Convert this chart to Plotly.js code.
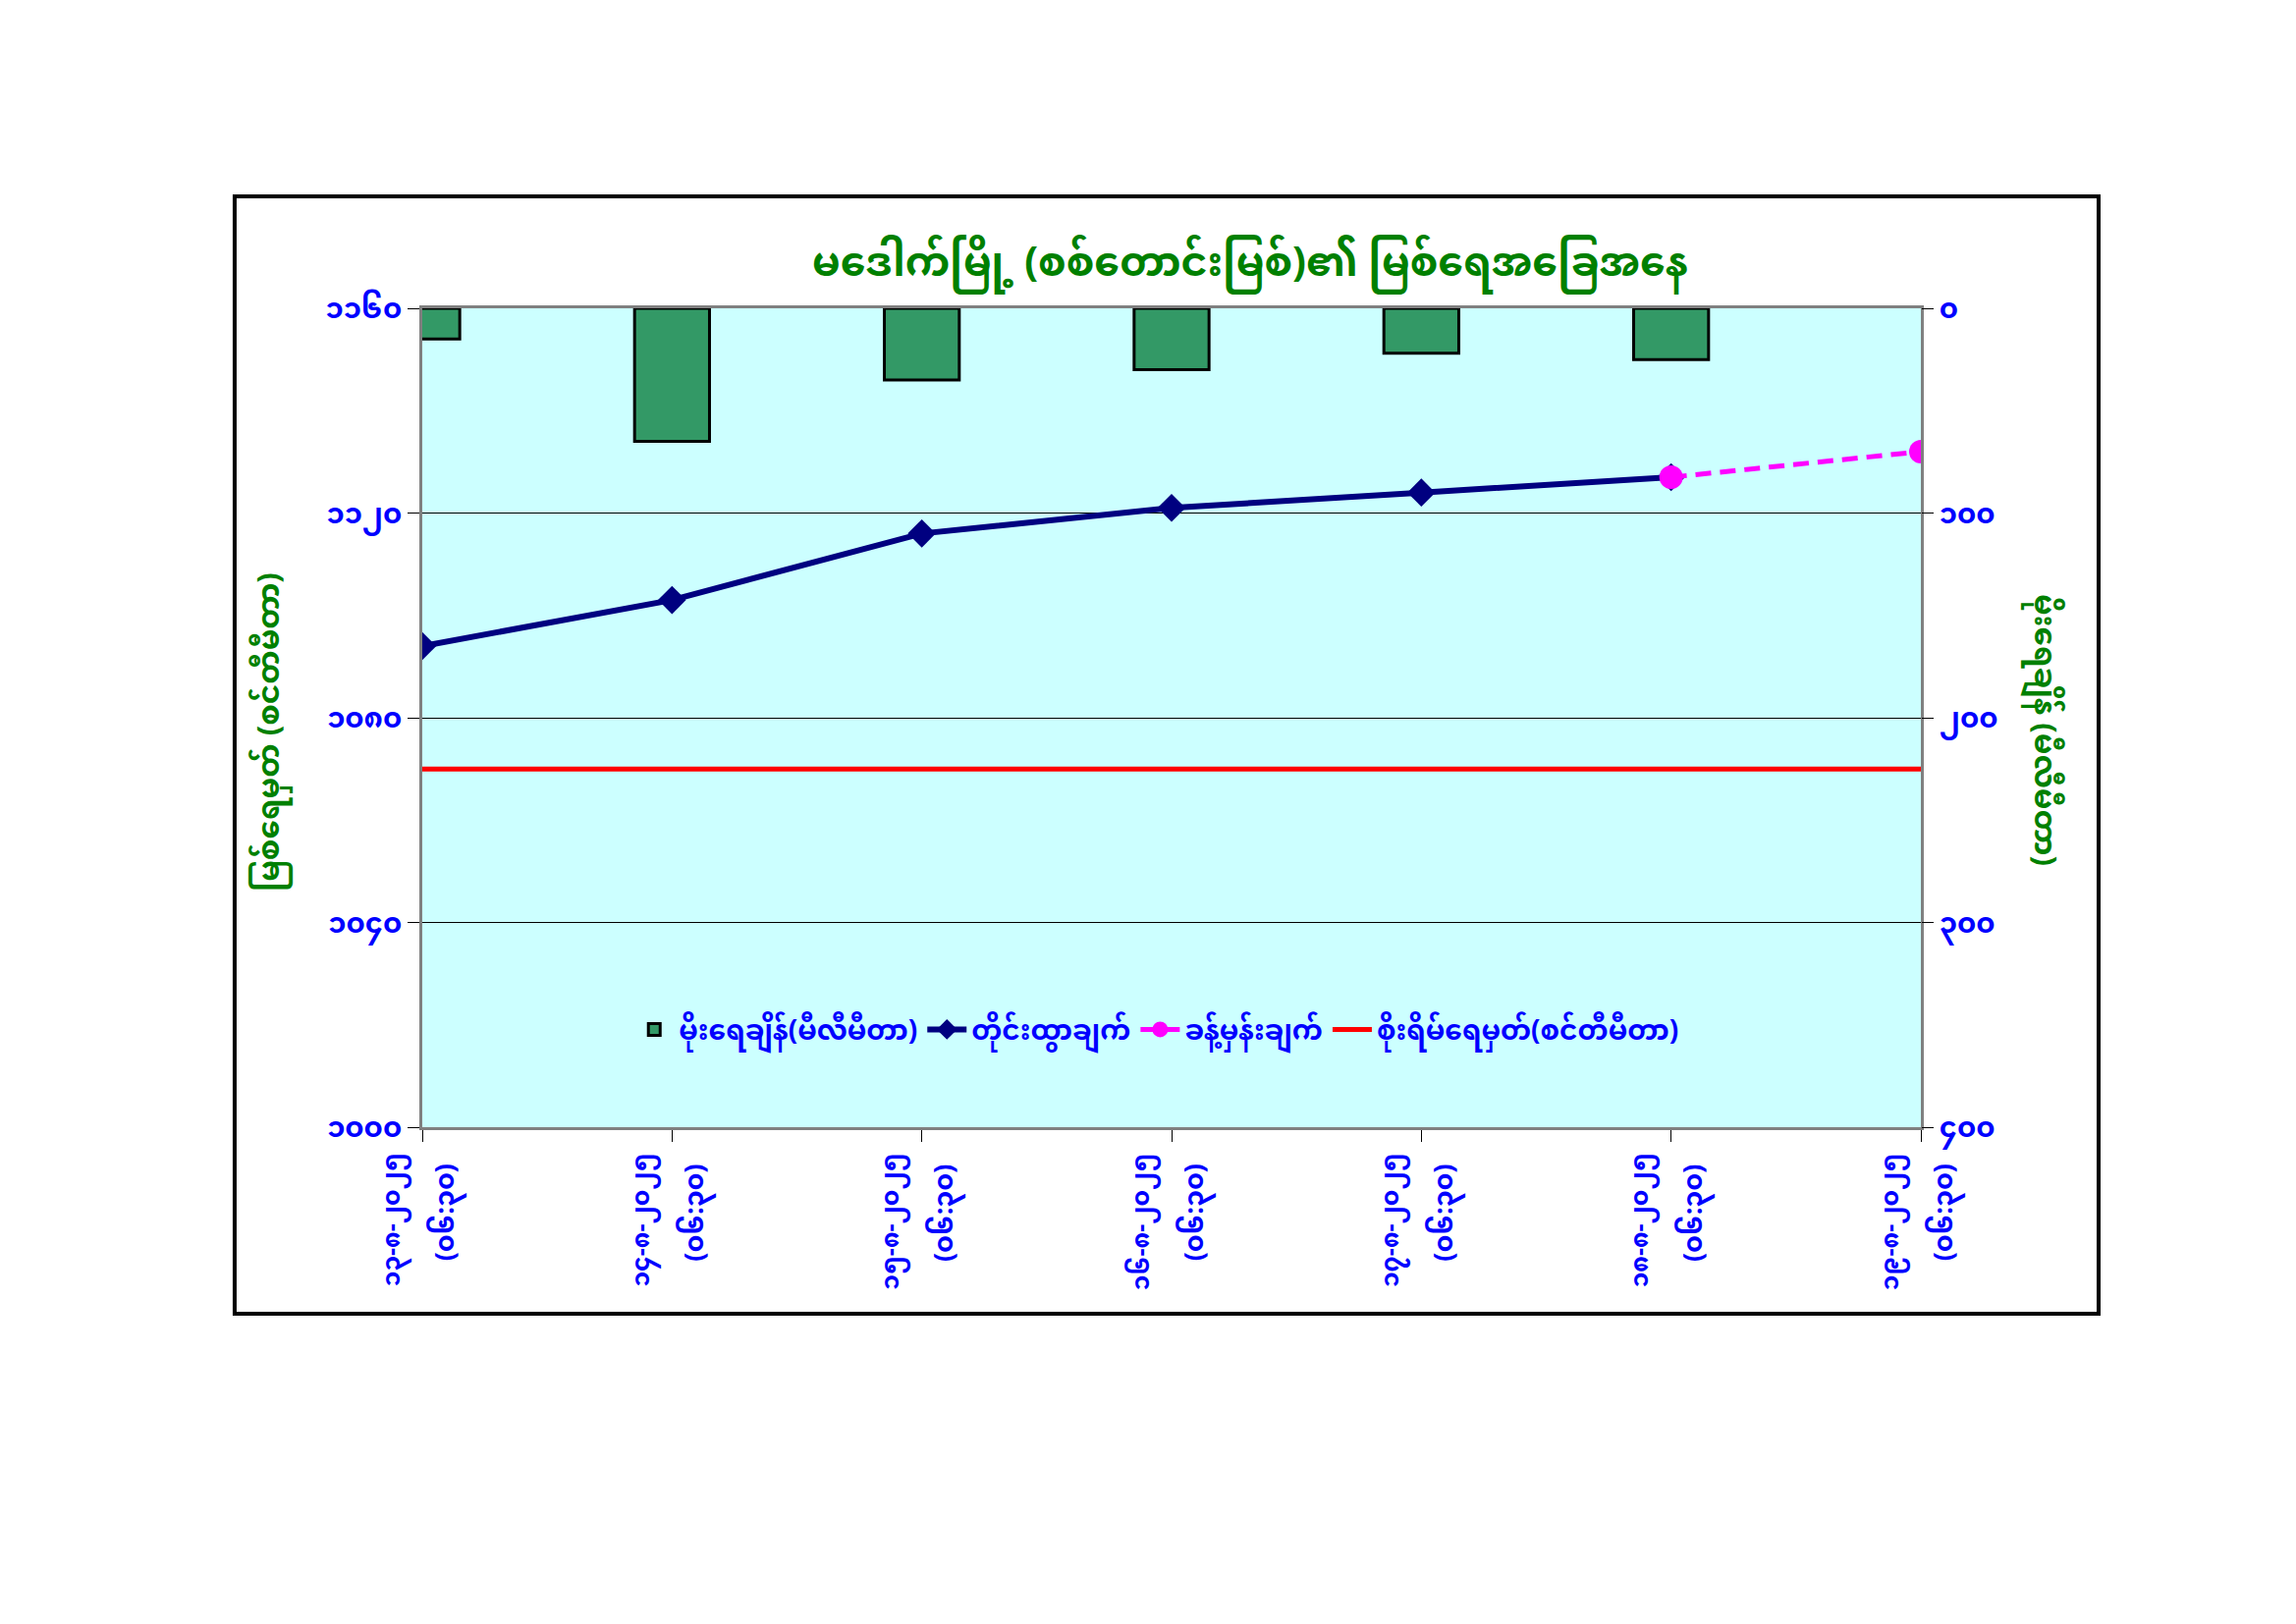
<!DOCTYPE html>
<html>
<head>
<meta charset="utf-8">
<script src="https://cdn.plot.ly/plotly-3.0.1.min.js"></script>
<style>html,body{margin:0;padding:0;background:#fff;}#chart{width:2338px;height:1654px;}</style>
</head>
<body>
<div id="chart"></div>
<script>
const categories = ["2025-08-13", "2025-08-14", "2025-08-15", "2025-08-16", "2025-08-17", "2025-08-18", "2025-08-19"];
const dateLabels = ["၁၃-၈-၂၀၂၅", "၁၄-၈-၂၀၂၅", "၁၅-၈-၂၀၂၅", "၁၆-၈-၂၀၂၅", "၁၇-၈-၂၀၂၅", "၁၈-၈-၂၀၂၅", "၁၉-၈-၂၀၂၅"];
const timeLabels = ["(၀၆:၃၀)", "(၀၆:၃၀)", "(၀၆:၃၀)", "(၀၆:၃၀)", "(၀၆:၃၀)", "(၀၆:၃၀)", "(၀၆:၃၀)"];
const rainfall = [15, 65, 35, 30, 22, 25, null];
const waterLevel = [1094, 1103, 1116, 1121, 1124, 1127, null];
const forecast = [null, null, null, null, null, 1127, 1132];
const dangerLevel = [1070, 1070, 1070, 1070, 1070, 1070, 1070];
const leftTickVals = [1000, 1040, 1080, 1120, 1160];
const leftTickText = ["၁၀၀၀", "၁၀၄၀", "၁၀၈၀", "၁၁၂၀", "၁၁၆၀"];
const rightTickVals = [0, 100, 200, 300, 400];
const rightTickText = ["၀", "၁၀၀", "၂၀၀", "၃၀၀", "၄၀၀"];
const seriesNames = ["မိုးရေချိန်(မီလီမီတာ)", "တိုင်းထွာချက်", "ခန့်မှန်းချက်", "စိုးရိမ်ရေမှတ်(စင်တီမီတာ)"];
const titleText = "မဒေါက်မြို့ (စစ်တောင်းမြစ်)၏ မြစ်ရေအခြေအနေ";
const leftTitle = "မြစ်ရေမှတ် (စင်တီမီတာ)";
const rightTitle = "မိုးရေချိန် (မီလီမီတာ)";

const FONT = "'Noto Sans Myanmar', 'Padauk', 'Myanmar Text', 'Noto Sans', sans-serif";
const BLUE = "#0000FF", GREEN = "#008000";

const traces = [
  {type: "bar", x: categories, y: rainfall, name: seriesNames[0], yaxis: "y2", legendgroup: "g1",
   marker: {color: "#339966", line: {color: "#000000", width: 3}}},
  {type: "scatter", mode: "lines+markers", x: categories, y: waterLevel, name: seriesNames[1], legendgroup: "g2",
   line: {color: "#000080", width: 6}, marker: {symbol: "diamond", size: 22, color: "#000080"}},
  {type: "scatter", mode: "lines+markers", x: categories, y: forecast, name: seriesNames[2], legendgroup: "g3",
   line: {color: "#FF00FF", width: 5, dash: "16px,9px"}, marker: {symbol: "circle", size: 24, color: "#FF00FF"}},
  {type: "scatter", mode: "lines", x: categories, y: dangerLevel, name: seriesNames[3], legendgroup: "g4",
   line: {color: "#FF0000", width: 5}}
];

const annotations = [
  {text: leftTitle, textangle: -90, xref: "paper", yref: "paper", x: -0.1003, y: 0.483,
   showarrow: false, font: {family: FONT, size: 31, color: GREEN, weight: "bold"}, xanchor: "center", yanchor: "middle"},
  {text: rightTitle, textangle: 90, xref: "paper", yref: "paper", x: 1.081, y: 0.485,
   showarrow: false, font: {family: FONT, size: 31, color: GREEN, weight: "bold"}, xanchor: "center", yanchor: "middle"}
];
categories.forEach((c, i) => {
  annotations.push({text: dateLabels[i], textangle: -90, xref: "x", yref: "paper", x: c, y: -0.029,
    xshift: -29, showarrow: false, xanchor: "center", yanchor: "top",
    font: {family: FONT, size: 25, color: BLUE, weight: "bold"}});
  annotations.push({text: timeLabels[i], textangle: -90, xref: "x", yref: "paper", x: c, y: -0.043,
    xshift: 25, showarrow: false, xanchor: "center", yanchor: "top",
    font: {family: FONT, size: 27, color: BLUE, weight: "bold"}});
});

const layout = {
  width: 2338, height: 1654,
  margin: {l: 430, r: 382, t: 314, b: 506},
  paper_bgcolor: "#FFFFFF", plot_bgcolor: "#CCFFFF",
  font: {family: FONT, color: BLUE},
  showlegend: true,
  bargap: 0.7,
  title: {text: titleText, font: {family: FONT, size: 41, color: GREEN, weight: "bold"},
          xref: "container", yref: "container", x: 0.5445, y: 0.8386, xanchor: "center", yanchor: "middle"},
  legend: {orientation: "h", x: 0.49, y: 0.119, xanchor: "center", yanchor: "middle", itemwidth: 40,
           tracegroupgap: 40,
           bgcolor: "rgba(0,0,0,0)", font: {family: FONT, size: 28, color: BLUE, weight: "bold"}, traceorder: "grouped"},
  xaxis: {type: "category", range: [0, 6], ticks: "outside", ticklen: 12, tickcolor: "#000",
          showticklabels: false,
          showline: true, linecolor: "#808080", linewidth: 3, mirror: true, showgrid: false},
  yaxis: {range: [1000, 1160], tickvals: leftTickVals, ticktext: leftTickText, ticks: "outside", ticklen: 12,
          tickcolor: "#000", showline: true, linecolor: "#808080", linewidth: 3, mirror: true,
          showgrid: true, gridcolor: "#000000", gridwidth: 1, zeroline: false,
          tickfont: {family: FONT, size: 29, color: BLUE, weight: "bold"}},
  yaxis2: {overlaying: "y", side: "right", range: [400, 0], tickvals: rightTickVals, ticktext: rightTickText,
           ticks: "outside", ticklen: 12, tickcolor: "#000", showgrid: false, zeroline: false, showline: false,
           tickfont: {family: FONT, size: 29, color: BLUE, weight: "bold"}},
  annotations: annotations,
  shapes: [
    {type: "rect", xref: "paper", yref: "paper", x0: -0.1252, x1: 1.1186, y0: -0.2278, y1: 1.1367,
     line: {color: "#000000", width: 4}, fillcolor: "rgba(0,0,0,0)", layer: "below"}
  ]
};

Plotly.newPlot("chart", traces, layout, {displayModeBar: false, responsive: false});
</script>
</body>
</html>
